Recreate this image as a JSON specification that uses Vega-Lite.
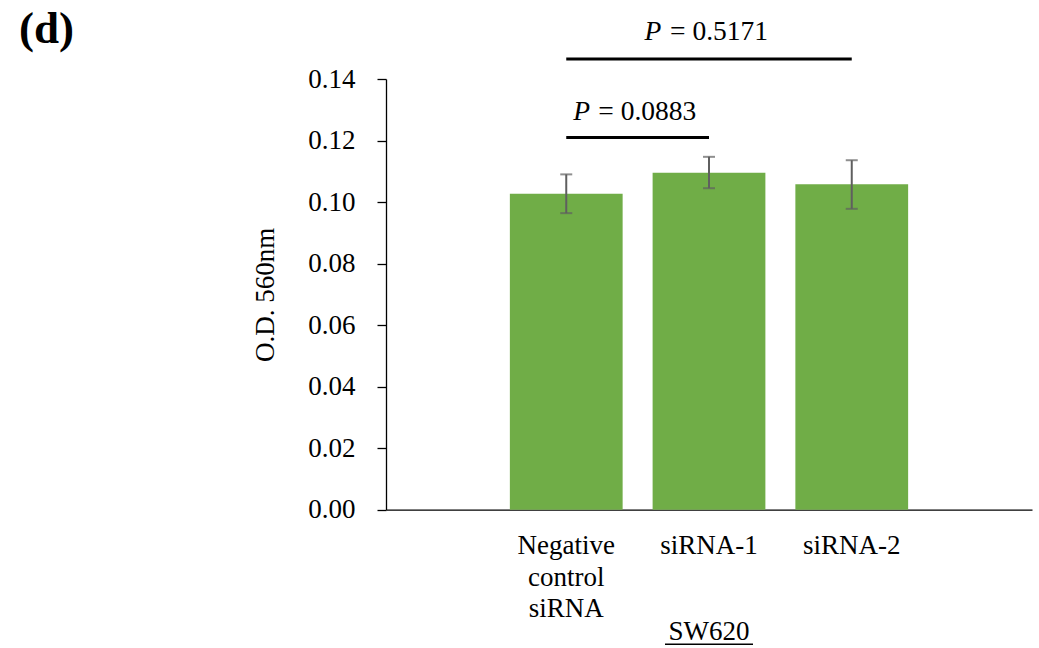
{
  "$schema": "https://vega.github.io/schema/vega-lite/v6.json",
  "autosize": {"type": "none"},
  "width": 646,
  "height": 430.7,
  "padding": {"left": 386, "top": 79, "right": 7, "bottom": 138.3},
  "background": "white",
  "config": {"view": {"stroke": null}, "font": "Liberation Serif"},
  "title": {"text": "(d)", "anchor": "start", "frame": "group", "dx": -367, "dy": 70, "offset": 0, "baseline": "alphabetic", "fontSize": 45, "font": "Liberation Serif", "fontWeight": "bold", "color": "black"},
  "datasets": {
    "bars": [
      {"group": "Negative control siRNA", "od": 0.1027, "lo": 0.0964, "hi": 0.1090},
      {"group": "siRNA-1", "od": 0.1095, "lo": 0.1045, "hi": 0.1147},
      {"group": "siRNA-2", "od": 0.1058, "lo": 0.0978, "hi": 0.1136}
    ]
  },
  "encoding": {
    "x": {"field": "group", "type": "nominal", "sort": null,
      "scale": {"domain": ["Negative control siRNA", "siRNA-1", "siRNA-2"], "paddingInner": 0.21, "paddingOuter": 0.8677},
      "axis": {"title": null, "labelAngle": 0, "ticks": false, "domainColor": "black", "domainWidth": 1.3,
        "labelFont": "Liberation Serif", "labelFontSize": 27, "labelColor": "black", "labelLineHeight": 31.5,
        "labelPadding": 23, "labelExpr": "split(datum.label, ' ')"}}
  },
  "layer": [
    {
      "data": {"name": "bars"},
      "mark": {"type": "bar", "color": "#70AD47"},
      "encoding": {
        "y": {"field": "od", "type": "quantitative",
          "scale": {"domain": [0, 0.14], "nice": false},
          "axis": {"values": [0, 0.02, 0.04, 0.06, 0.08, 0.1, 0.12, 0.14], "format": ".2f", "grid": false,
            "domainColor": "black", "domainWidth": 1.3, "tickColor": "black", "tickWidth": 1.3, "tickSize": 9,
            "labelFont": "Liberation Serif", "labelFontSize": 27, "labelColor": "black", "labelPadding": 22,
            "title": "O.D. 560nm", "titleFont": "Liberation Serif", "titleFontSize": 27, "titleFontWeight": "normal",
            "titleColor": "black", "titlePadding": 28}}
      }
    },
    {
      "data": {"name": "bars"},
      "mark": {"type": "rule", "color": "#5f5f5f", "strokeWidth": 2},
      "encoding": {"y": {"field": "lo", "type": "quantitative"}, "y2": {"field": "hi"}}
    },
    {
      "data": {"name": "bars"},
      "mark": {"type": "tick", "color": "#5f5f5f", "size": 12, "thickness": 2, "orient": "horizontal"},
      "encoding": {"y": {"field": "lo", "type": "quantitative"}}
    },
    {
      "data": {"name": "bars"},
      "mark": {"type": "tick", "color": "#5f5f5f", "size": 12, "thickness": 2, "orient": "horizontal"},
      "encoding": {"y": {"field": "hi", "type": "quantitative"}}
    },
    {
      "data": {"values": [
        {"from": "Negative control siRNA", "to": "siRNA-2", "y": 0.1465},
        {"from": "Negative control siRNA", "to": "siRNA-1", "y": 0.1210}
      ]},
      "mark": {"type": "rule", "color": "black", "strokeWidth": 3},
      "encoding": {"x": {"field": "from", "type": "nominal"}, "x2": {"field": "to"}, "y": {"field": "y", "type": "quantitative"}}
    },
    {
      "data": {"values": [{"at": "siRNA-1", "y": 0.1527, "t": "P"}]},
      "mark": {"type": "text", "font": "Liberation Serif", "fontSize": 27.5, "fontStyle": "italic", "align": "left", "baseline": "alphabetic", "dx": -64.5, "color": "black"},
      "encoding": {"x": {"field": "at", "type": "nominal"}, "y": {"field": "y", "type": "quantitative"}, "text": {"field": "t"}}
    },
    {
      "data": {"values": [{"at": "siRNA-1", "y": 0.1527, "t": "= 0.5171"}]},
      "mark": {"type": "text", "font": "Liberation Serif", "fontSize": 27.5, "align": "left", "baseline": "alphabetic", "dx": -39, "color": "black"},
      "encoding": {"x": {"field": "at", "type": "nominal"}, "y": {"field": "y", "type": "quantitative"}, "text": {"field": "t"}}
    },
    {
      "data": {"values": [{"at": "Negative control siRNA", "y": 0.1267, "t": "P"}]},
      "mark": {"type": "text", "font": "Liberation Serif", "fontSize": 27.5, "fontStyle": "italic", "align": "left", "baseline": "alphabetic", "dx": 7, "color": "black"},
      "encoding": {"x": {"field": "at", "type": "nominal"}, "y": {"field": "y", "type": "quantitative"}, "text": {"field": "t"}}
    },
    {
      "data": {"values": [{"at": "Negative control siRNA", "y": 0.1267, "t": "= 0.0883"}]},
      "mark": {"type": "text", "font": "Liberation Serif", "fontSize": 27.5, "align": "left", "baseline": "alphabetic", "dx": 32, "color": "black"},
      "encoding": {"x": {"field": "at", "type": "nominal"}, "y": {"field": "y", "type": "quantitative"}, "text": {"field": "t"}}
    },
    {
      "data": {"values": [{"at": "siRNA-1", "y": -0.0424, "t": "SW620"}]},
      "mark": {"type": "text", "font": "Liberation Serif", "fontSize": 27, "align": "center", "baseline": "alphabetic", "color": "black"},
      "encoding": {"x": {"field": "at", "type": "nominal"}, "y": {"field": "y", "type": "quantitative"}, "text": {"field": "t"}}
    },
    {
      "data": {"values": [{"at": "siRNA-1", "y": -0.0437}]},
      "mark": {"type": "rule", "color": "black", "strokeWidth": 1.5, "xOffset": -44, "x2Offset": 44},
      "encoding": {"x": {"field": "at", "type": "nominal"}, "x2": {"field": "at"}, "y": {"field": "y", "type": "quantitative"}}
    }
  ]
}
